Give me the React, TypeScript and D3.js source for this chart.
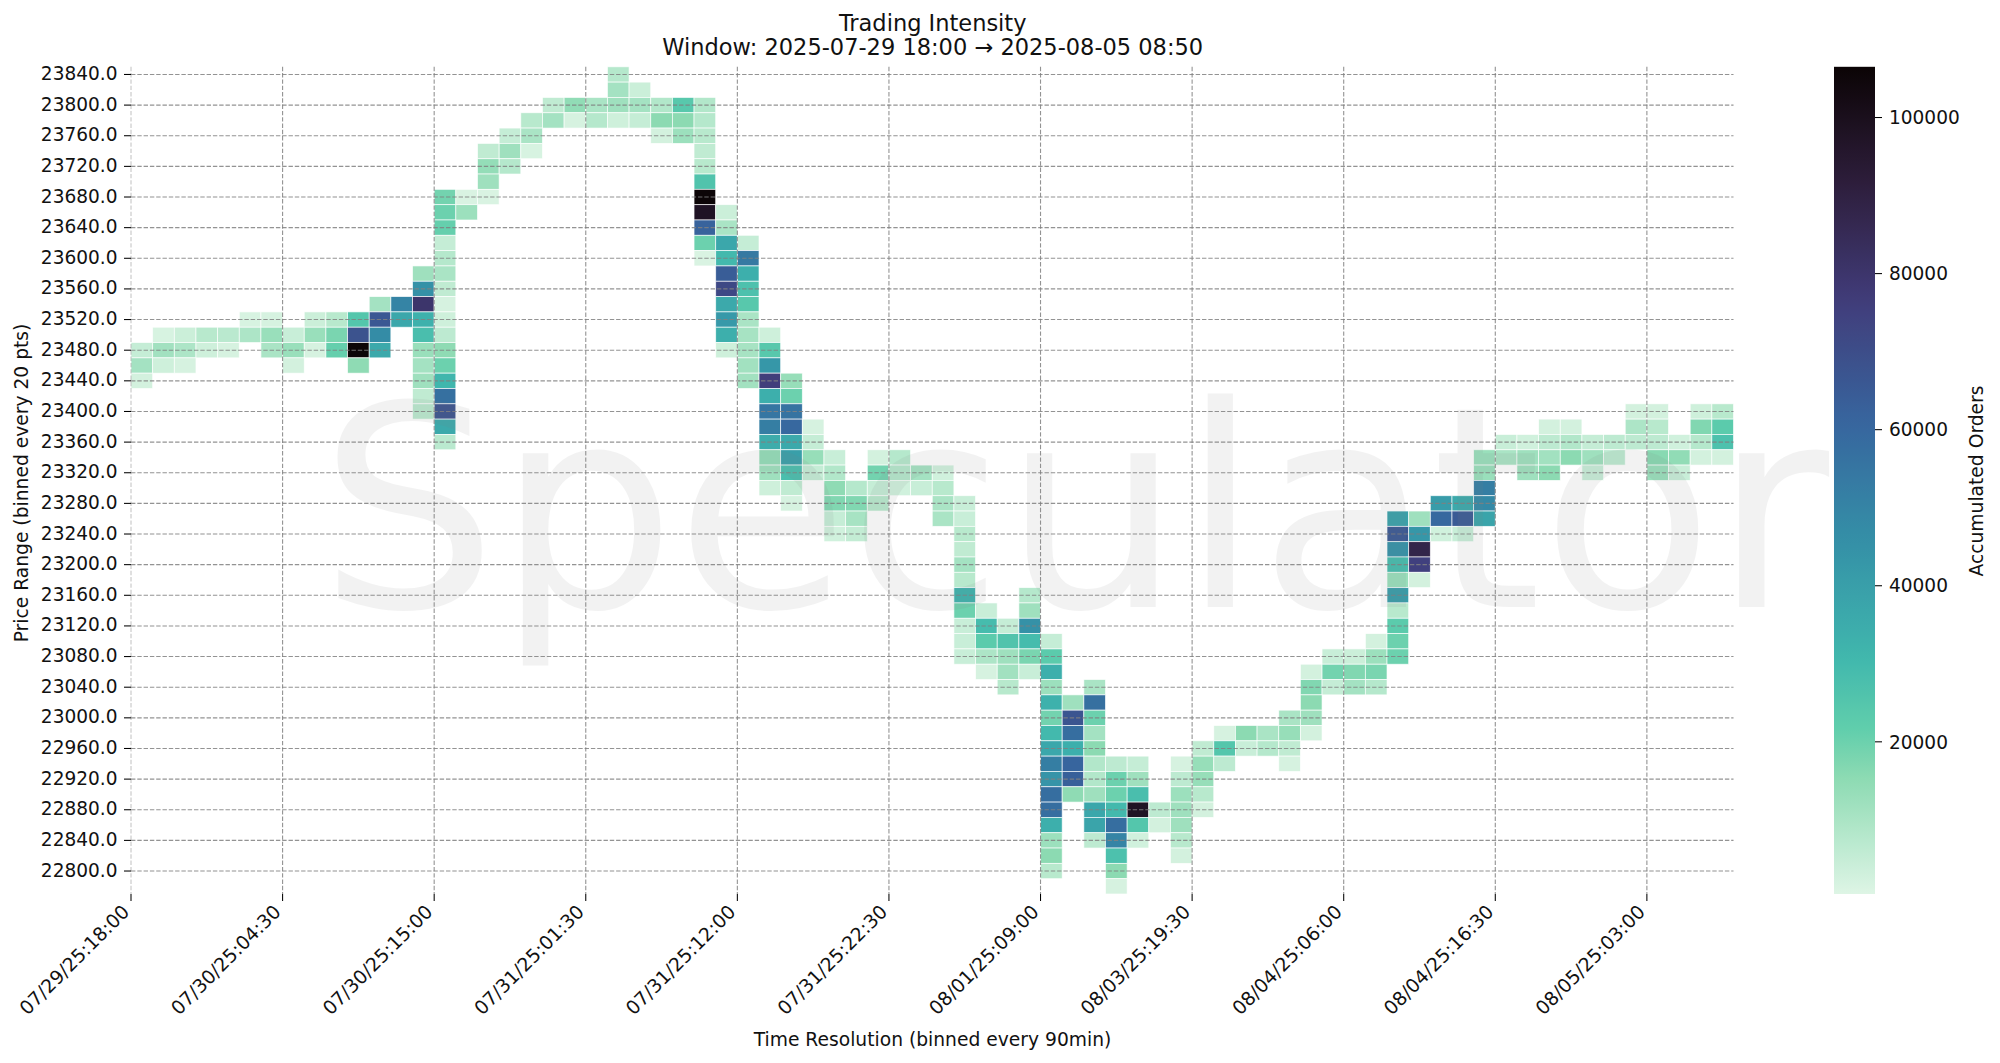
import React from "react";
import * as d3 from "d3";

const WIDTH = 2000;
const HEIGHT = 1063;

const titleLines = ["Trading Intensity", "Window: 2025-07-29 18:00 → 2025-08-05 08:50"];
const xAxisTitle = "Time Resolution (binned every 90min)";
const yAxisTitle = "Price Range (binned every 20 pts)";
const colorbarTitle = "Accumulated Orders";
const watermark = "Speculator";

const xTickLabels = [
  "07/29/25:18:00", "07/30/25:04:30", "07/30/25:15:00", "07/31/25:01:30",
  "07/31/25:12:00", "07/31/25:22:30", "08/01/25:09:00", "08/03/25:19:30",
  "08/04/25:06:00", "08/04/25:16:30", "08/05/25:03:00",
];
const xTickStep = 7;
const columnCount = 74;
const priceTop = 23840;
const priceBottom = 22780;
const priceStep = 20;
const colorTicks = [20000, 40000, 60000, 80000, 100000];
const colorMin = 500;
const colorMax = 106500;

const makoStops = [0, 1 / 7, 2 / 7, 3 / 7, 4 / 7, 5 / 7, 0.8, 6 / 7, 1];
const makoColors = ["#0B0405", "#2E1E3C", "#413D7B", "#37659E", "#348FA7", "#40B7AD", "#60CEAC", "#8BDAB2", "#DEF5E5"];

type Cell = [number, number];
const p23840: Cell[] = [[22, 8000]];
const p23820: Cell[] = [[22, 11000], [23, 4000]];
const p23800: Cell[] = [[19, 6000], [20, 14500], [21, 10000], [22, 12000], [23, 11000], [24, 8500], [25, 24000], [26, 8500]];
const p23780: Cell[] = [[18, 7500], [19, 11000], [20, 2000], [21, 8000], [22, 3500], [23, 5000], [24, 15500], [25, 15500], [26, 8000]];
const p23760: Cell[] = [[17, 5000], [18, 10000], [24, 2500], [25, 12500], [26, 7500]];
const p23740: Cell[] = [[16, 6000], [17, 12000], [18, 1800], [26, 6000]];
const p23720: Cell[] = [[16, 14000], [17, 8000], [26, 7500]];
const p23700: Cell[] = [[16, 12000], [26, 26000]];
const p23680: Cell[] = [[14, 19000], [15, 1500], [16, 1500], [26, 106000]];
const p23660: Cell[] = [[14, 20000], [15, 12500], [26, 98000], [27, 4000]];
const p23640: Cell[] = [[14, 21000], [26, 62000], [27, 10000]];
const p23620: Cell[] = [[14, 5000], [26, 20000], [27, 37000], [28, 5000]];
const p23600: Cell[] = [[14, 8000], [26, 1500], [27, 30000], [28, 54000]];
const p23580: Cell[] = [[13, 12000], [14, 10000], [27, 64000], [28, 34000]];
const p23560: Cell[] = [[13, 45000], [14, 6000], [27, 72000], [28, 27000]];
const p23540: Cell[] = [[11, 11000], [12, 50000], [13, 80000], [14, 2000], [27, 36000], [28, 24000]];
const p23520: Cell[] = [[5, 1800], [6, 2000], [8, 4000], [9, 7500], [10, 25000], [11, 66000], [12, 37000], [13, 33000], [14, 3500], [27, 42000], [28, 10000]];
const p23500: Cell[] = [[1, 1800], [2, 4000], [3, 7500], [4, 7000], [5, 9500], [6, 13000], [7, 4500], [8, 13000], [9, 18000], [10, 68000], [11, 47000], [13, 28000], [14, 6500], [27, 34000], [28, 10500], [29, 3500]];
const p23480: Cell[] = [[0, 5000], [1, 11500], [2, 9500], [3, 3500], [4, 2000], [6, 10000], [7, 13000], [8, 2000], [9, 21000], [10, 106000], [11, 36000], [13, 13000], [14, 15000], [27, 3500], [28, 10500], [29, 24000]];
const p23460: Cell[] = [[0, 11000], [1, 3500], [2, 2000], [7, 2500], [10, 15000], [13, 11000], [14, 20000], [28, 11500], [29, 43000]];
const p23440: Cell[] = [[0, 2500], [13, 12000], [14, 31000], [28, 11500], [29, 76000], [30, 13500]];
const p23420: Cell[] = [[13, 6000], [14, 57000], [29, 34000], [30, 20000]];
const p23400: Cell[] = [[13, 7000], [14, 68000], [29, 55000], [30, 56000], [69, 2500], [70, 2500], [72, 3500], [73, 7500]];
const p23380: Cell[] = [[14, 36000], [29, 52000], [30, 60000], [31, 2000], [65, 2500], [66, 2500], [69, 9500], [70, 7500], [72, 17000], [73, 23000]];
const p23360: Cell[] = [[14, 7000], [29, 35000], [30, 36000], [31, 5000], [63, 4500], [64, 3000], [65, 6500], [66, 8500], [67, 5000], [68, 6500], [69, 6500], [70, 6500], [71, 3000], [72, 8000], [73, 27000]];
const p23340: Cell[] = [[29, 14000], [30, 40000], [31, 13500], [32, 4500], [34, 2500], [35, 8000], [62, 13000], [63, 10000], [64, 12000], [65, 11500], [66, 15500], [67, 12000], [68, 6500], [70, 16000], [71, 14500], [72, 2500], [73, 2500]];
const p23320: Cell[] = [[29, 12000], [30, 28000], [31, 5000], [32, 8500], [34, 19000], [35, 8000], [36, 11000], [37, 3000], [62, 13000], [64, 12000], [65, 15500], [67, 4500], [70, 13000], [71, 4500]];
const p23300: Cell[] = [[29, 3500], [30, 6000], [32, 15000], [33, 8000], [34, 5000], [35, 3000], [36, 4500], [37, 7500], [62, 52000]];
const p23280: Cell[] = [[30, 2000], [32, 17000], [33, 17000], [34, 7500], [37, 10000], [38, 4500], [60, 41000], [61, 36000], [62, 48000]];
const p23260: Cell[] = [[32, 5000], [33, 10500], [37, 10000], [38, 4500], [58, 39000], [59, 12000], [60, 60000], [61, 65000], [62, 38000]];
const p23240: Cell[] = [[32, 3000], [33, 5500], [38, 7500], [58, 66000], [59, 43000], [60, 3000], [61, 4500]];
const p23220: Cell[] = [[38, 6000], [58, 45000], [59, 88000]];
const p23200: Cell[] = [[38, 11000], [58, 29000], [59, 75000]];
const p23180: Cell[] = [[38, 7500], [58, 13000], [59, 2500]];
const p23160: Cell[] = [[38, 33000], [41, 8000], [58, 41000]];
const p23140: Cell[] = [[38, 20000], [39, 4500], [41, 12000], [58, 7500]];
const p23120: Cell[] = [[38, 4500], [39, 29000], [40, 5000], [41, 45000], [58, 23000]];
const p23100: Cell[] = [[38, 4500], [39, 23000], [40, 26000], [41, 29000], [42, 5000], [57, 2500], [58, 20000]];
const p23080: Cell[] = [[38, 4500], [39, 9500], [40, 12000], [41, 18000], [42, 23000], [55, 4500], [56, 4000], [57, 12500], [58, 20000]];
const p23060: Cell[] = [[39, 2000], [40, 11500], [41, 4500], [42, 34000], [54, 2500], [55, 19000], [56, 17000], [57, 18000]];
const p23040: Cell[] = [[40, 7500], [42, 12500], [44, 10000], [54, 17000], [55, 5000], [56, 11000], [57, 8000]];
const p23020: Cell[] = [[42, 33000], [43, 12000], [44, 57000], [54, 15500]];
const p23000: Cell[] = [[42, 19000], [43, 67000], [44, 20000], [53, 10000], [54, 12000]];
const p22980: Cell[] = [[42, 30000], [43, 58000], [44, 11000], [50, 2000], [51, 15500], [52, 10000], [53, 13500], [54, 2500]];
const p22960: Cell[] = [[42, 37000], [43, 34000], [44, 15500], [49, 6000], [50, 25000], [51, 4500], [52, 8000], [53, 6000]];
const p22940: Cell[] = [[42, 52000], [43, 61000], [44, 8500], [45, 6500], [46, 5000], [48, 2000], [49, 13500], [50, 6500], [53, 2000]];
const p22920: Cell[] = [[42, 44000], [43, 63000], [44, 8500], [45, 20000], [46, 12000], [48, 6500], [49, 13500]];
const p22900: Cell[] = [[42, 58000], [43, 15000], [44, 12000], [45, 20000], [46, 28000], [48, 12500], [49, 7500]];
const p22880: Cell[] = [[42, 58000], [44, 37000], [45, 30000], [46, 98000], [47, 6500], [48, 12000], [49, 2500]];
const p22860: Cell[] = [[42, 34000], [44, 38000], [45, 58000], [46, 25000], [47, 2500], [48, 12000]];
const p22840: Cell[] = [[42, 12500], [44, 6500], [45, 50000], [46, 3000], [48, 7500]];
const p22820: Cell[] = [[42, 15500], [45, 27000], [48, 2500]];
const p22800: Cell[] = [[42, 7500], [45, 15500]];
const p22780: Cell[] = [[45, 2000]];

const priceRows: [number, Cell[]][] = [
  [23840, p23840], [23820, p23820], [23800, p23800], [23780, p23780], [23760, p23760], [23740, p23740],
  [23720, p23720], [23700, p23700], [23680, p23680], [23660, p23660], [23640, p23640], [23620, p23620],
  [23600, p23600], [23580, p23580], [23560, p23560], [23540, p23540], [23520, p23520], [23500, p23500],
  [23480, p23480], [23460, p23460], [23440, p23440], [23420, p23420], [23400, p23400], [23380, p23380],
  [23360, p23360], [23340, p23340], [23320, p23320], [23300, p23300], [23280, p23280], [23260, p23260],
  [23240, p23240], [23220, p23220], [23200, p23200], [23180, p23180], [23160, p23160], [23140, p23140],
  [23120, p23120], [23100, p23100], [23080, p23080], [23060, p23060], [23040, p23040], [23020, p23020],
  [23000, p23000], [22980, p22980], [22960, p22960], [22940, p22940], [22920, p22920], [22900, p22900],
  [22880, p22880], [22860, p22860], [22840, p22840], [22820, p22820], [22800, p22800], [22780, p22780],
];

const plot = { left: 131, right: 1733.5, top: 66.8, bottom: 894 };
const bar = { left: 1834, right: 1875 };
const FONT = "'DejaVu Sans', sans-serif";
const TICK_SIZE = 18.55;
const X_TICK_SIZE = 18.9;
const LABEL_SIZE = 18.7;
const TEXT = "#111";

export default function App() {
  const x = d3.scaleLinear().domain([0, columnCount]).range([plot.left, plot.right]);
  const rowCount = (priceTop - priceBottom) / priceStep + 1;
  const rowH = (plot.bottom - plot.top) / rowCount;
  const y = d3.scaleLinear().domain([priceTop, priceBottom]).range([plot.top + rowH / 2, plot.bottom - rowH / 2]);
  const mako = d3.scaleLinear<string>().domain(makoStops).range(makoColors).interpolate(d3.interpolateRgb);
  const t = d3.scaleLinear().domain([colorMin, colorMax]).range([1, 0]);
  const color = (v: number) => mako(t(v));
  const cy = d3.scaleLinear().domain([colorMin, colorMax]).range([plot.bottom, plot.top]);
  const yTicks = d3.range(priceTop, priceBottom, -40);
  const gradientStops = d3.range(0, 1.0001, 0.02);
  const colW = x(1) - x(0);

  return (
    <svg width={WIDTH} height={HEIGHT} viewBox={`0 0 ${WIDTH} ${HEIGHT}`}
      style={{ position: "fixed", left: 0, top: 0, background: "#fff" }} fontFamily={FONT}>
      <defs>
        <linearGradient id="cbar" x1="0" y1="0" x2="0" y2="1">
          {gradientStops.map((s) => <stop key={s} offset={s} stopColor={mako(s)} />)}
        </linearGradient>
      </defs>

      {priceRows.map(([price, cells]) =>
        cells.map(([col, v]) => (
          <rect key={`${price}-${col}`} x={x(col)} y={y(price) - rowH / 2} width={colW} height={rowH}
            fill={color(v)} stroke="#fff" strokeWidth={0.8} strokeOpacity={0.8} />
        ))
      )}

      <g stroke="#808080" strokeOpacity={0.85} strokeWidth={1.1} strokeDasharray="4.4 1.9">
        {yTicks.map((p) => <line key={p} x1={plot.left} x2={plot.right} y1={y(p)} y2={y(p)} />)}
        {xTickLabels.map((_, i) => (
          <line key={i} x1={x(i * xTickStep)} x2={x(i * xTickStep)} y1={plot.top} y2={plot.bottom}
            strokeOpacity={i === 0 ? 0.45 : 0.85} />
        ))}
      </g>

      <text x={319} y={607} fontSize={281} fill="#808080" fillOpacity={0.1}>{watermark}</text>

      <g stroke="#000" strokeWidth={1.05}>
        {yTicks.map((p) => <line key={p} x1={plot.left - 7} x2={plot.left} y1={y(p)} y2={y(p)} />)}
        {xTickLabels.map((_, i) => (
          <line key={i} x1={x(i * xTickStep)} x2={x(i * xTickStep)} y1={plot.bottom} y2={plot.bottom + 7} />
        ))}
      </g>
      <g fontSize={TICK_SIZE} fill={TEXT}>
        {yTicks.map((p) => (
          <text key={p} x={plot.left - 13.5} y={y(p)} dy="0.3em" textAnchor="end">{p.toFixed(1)}</text>
        ))}
        {xTickLabels.map((label, i) => (
          <text key={label} textAnchor="end" fontSize={X_TICK_SIZE}
            transform={`translate(${x(i * xTickStep) - 0.5},${plot.bottom + 19}) rotate(-45)`}>{label}</text>
        ))}
      </g>
      <g fontSize={LABEL_SIZE} fill={TEXT}>
        <text x={932.5} y={1046} textAnchor="middle">{xAxisTitle}</text>
        <text transform={`translate(28,483) rotate(-90)`} textAnchor="middle">{yAxisTitle}</text>
      </g>

      <g fontSize={22.5} fill={TEXT} textAnchor="middle">
        <text x={932.7} y={31}>{titleLines[0]}</text>
        <text x={932.7} y={55}>{titleLines[1]}</text>
      </g>

      <rect x={bar.left} y={plot.top} width={bar.right - bar.left} height={plot.bottom - plot.top} fill="url(#cbar)" />
      <g stroke="#000" strokeWidth={1.05}>
        {colorTicks.map((v) => <line key={v} x1={bar.right} x2={bar.right + 7} y1={cy(v)} y2={cy(v)} />)}
      </g>
      <g fontSize={TICK_SIZE} fill={TEXT}>
        {colorTicks.map((v) => <text key={v} x={bar.right + 14} y={cy(v)} dy="0.36em">{v}</text>)}
        <text transform={`translate(1983,481) rotate(-90)`} textAnchor="middle" fontSize={LABEL_SIZE}>{colorbarTitle}</text>
      </g>
    </svg>
  );
}
